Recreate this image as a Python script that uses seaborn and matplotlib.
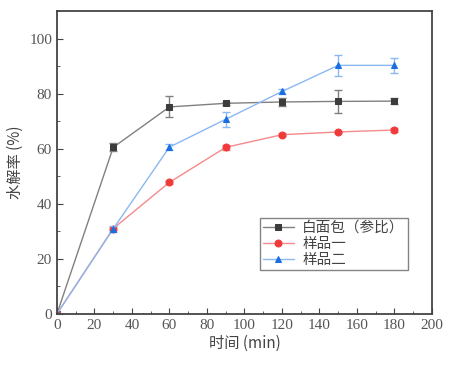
import numpy as np
import pandas as pd
import matplotlib
matplotlib.use("Agg")
import matplotlib.pyplot as plt
import seaborn as sns

time = [0, 30, 60, 90, 120, 150, 180]
bread = [0, 60.5, 75.2, 76.5, 77.0, 77.2, 77.3]
bread_err = [0, 1.5, 3.8, 0.5, 1.5, 4.1, 1.0]
sample1 = [0, 31.0, 47.8, 60.5, 65.1, 66.1, 66.8]
sample1_err = [0, 0.5, 0.5, 0.8, 0.5, 0.5, 0.6]
sample2 = [0, 30.9, 60.6, 70.7, 80.8, 90.3, 90.3]
sample2_err = [0, 1.0, 1.0, 2.7, 1.0, 3.8, 2.6]

labels = ["白面包（参比）", "样品一", "样品二"]
line_colors = ["#808080", "#f48a8a", "#8ab8f0"]
marker_colors = ["#3c3c3c", "#f03a3a", "#1a6ee0"]
markers = ["s", "o", "^"]

sns.set_style("ticks")
plt.rcParams["font.family"] = ["Noto Sans CJK SC", "DejaVu Sans"]

fig = plt.figure(figsize=(4.63, 3.71), dpi=100)
ax = fig.add_axes([0.123, 0.154, 0.81, 0.816])

series = [(bread, bread_err), (sample1, sample1_err), (sample2, sample2_err)]
for (vals, errs), lab, lc, mc, mk in zip(series, labels, line_colors, marker_colors, markers):
    df = pd.DataFrame({"time": time, "rate": vals})
    ax.errorbar(time, vals, yerr=errs, fmt="none", ecolor=lc, elinewidth=1, capsize=3, capthick=1)
    sns.lineplot(data=df, x="time", y="rate", ax=ax, color=lc, linewidth=1,
                 marker=mk, markersize=5, markerfacecolor=mc, markeredgecolor=mc, label=lab)

ax.set_xlim(0, 200)
ax.set_ylim(0, 110)
ax.set_xticks(np.arange(0, 201, 20))
ax.set_xticks(np.arange(0, 201, 10), minor=True)
ax.set_yticks(np.arange(0, 101, 20))
ax.set_yticks(np.arange(0, 111, 10), minor=True)
ax.tick_params(direction="in", which="both", colors="#444444", labelcolor="#555555")
ax.tick_params(which="major", length=4)
ax.tick_params(which="minor", length=2)
for lab in ax.get_xticklabels() + ax.get_yticklabels():
    lab.set_family("Liberation Serif")
    lab.set_fontsize(11)
for s in ax.spines.values():
    s.set_visible(True)
    s.set_color("#444444")
    s.set_linewidth(1.3)

ax.set_xlabel("时间 (min)", fontsize=11, color="#444444", labelpad=2)
ax.set_ylabel("水解率 (%)", fontsize=11, color="#444444", labelpad=4)

leg = ax.legend(loc="lower right", bbox_to_anchor=(0.935, 0.145), fontsize=10.5, frameon=True,
                fancybox=False, edgecolor="#666666", handlelength=2.1, borderpad=0.2,
                labelspacing=0.15, handletextpad=0.6, borderaxespad=0)
leg.get_frame().set_linewidth(1)
for t in leg.get_texts():
    t.set_color("#444444")

fig.savefig("out.png", dpi=100)
